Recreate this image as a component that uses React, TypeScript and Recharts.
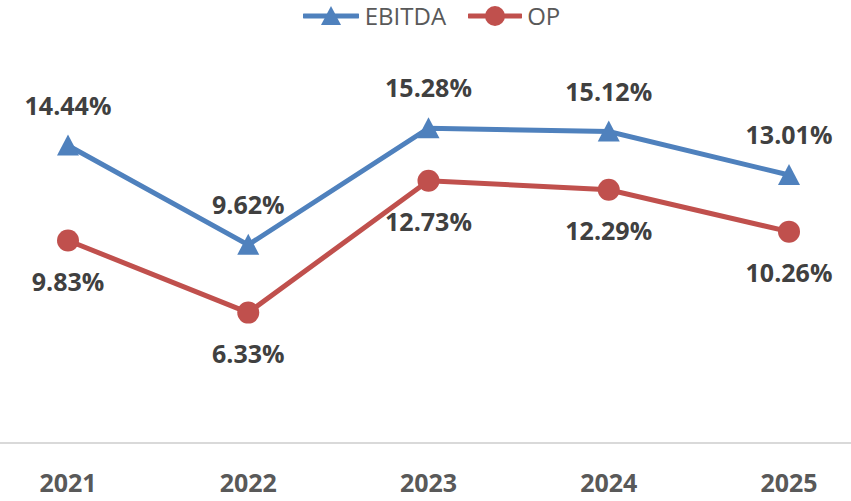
import React from "react";
import { CartesianGrid, Legend, LabelList, Line, LineChart, XAxis, YAxis } from "recharts";

const years = ["2021", "2022", "2023", "2024", "2025"];
const ebitda = [14.44, 9.62, 15.28, 15.12, 13.01];
const op = [9.83, 6.33, 12.73, 12.29, 10.26];

const data = years.map((year, i) => ({ year, ebitda: ebitda[i], op: op[i] }));

const BLUE = "#4f81bd";
const RED = "#c0504d";
const FONT = "'Open Sans', 'DejaVu Sans', sans-serif";

const TriangleDot = (props: any) => {
  const { cx, cy, index } = props;
  if (cx == null || cy == null) return null;
  return <path key={index} d={`M${cx},${cy - 11} L${cx + 11},${cy + 10} L${cx - 11},${cy + 10} Z`} fill={BLUE} />;
};

const CircleDot = (props: any) => {
  const { cx, cy, index } = props;
  if (cx == null || cy == null) return null;
  return <circle key={index} cx={cx} cy={cy} r={11} fill={RED} />;
};

const makeLabel = (dy: number) => (props: any) => {
  const { x, y, value, index } = props;
  return (
    <text
      key={index}
      x={x}
      y={y + dy}
      textAnchor="middle"
      fontFamily={FONT}
      fontWeight={700}
      fontSize={25}
      fill="#404040"
    >
      {`${Number(value).toFixed(2)}%`}
    </text>
  );
};

const YearTick = (props: any) => {
  const { x, y, payload } = props;
  return (
    <text x={x} y={y + 49} textAnchor="middle" fontFamily={FONT} fontWeight={700} fontSize={25} fill="#595959">
      {payload.value}
    </text>
  );
};

const LegendContent = () => (
  <div
    style={{
      height: 31,
      display: "flex",
      justifyContent: "center",
      alignItems: "center",
      fontFamily: FONT,
      fontSize: 24,
      color: "#595959",
      paddingLeft: 12,
    }}
  >
    <svg width={56} height={24} style={{ marginRight: 6 }}>
      <line x1={1} y1={12} x2={55} y2={12} stroke={BLUE} strokeWidth={5} strokeLinecap="round" />
      <path d="M28,2 L38,21 L18,21 Z" fill={BLUE} />
    </svg>
    <span style={{ marginRight: 22, lineHeight: "24px" }}>EBITDA</span>
    <svg width={54} height={24} style={{ marginRight: 5 }}>
      <line x1={1} y1={12} x2={53} y2={12} stroke={RED} strokeWidth={5} strokeLinecap="round" />
      <circle cx={27} cy={12} r={10} fill={RED} />
    </svg>
    <span style={{ lineHeight: "24px" }}>OP</span>
  </div>
);

export default function App() {
  return (
    <div style={{ position: "absolute", left: 0, top: 0, width: 851, height: 501, background: "#fff" }}>
      <LineChart width={851} height={501} data={data} margin={{ top: 0, right: 0, bottom: 0, left: 0 }}>
        <CartesianGrid horizontal={false} vertical={false} />
        <XAxis
          dataKey="year"
          height={58}
          padding={{ left: 68, right: 62 }}
          axisLine={{ stroke: "#d9d9d9", strokeWidth: 2 }}
          tickLine={false}
          tickSize={0}
          tickMargin={0}
          tick={<YearTick />}
        />
        <YAxis hide domain={[0, 20]} width={0} />
        <Legend verticalAlign="top" align="center" content={<LegendContent />} />
        <Line
          type="linear"
          dataKey="ebitda"
          name="EBITDA"
          stroke={BLUE}
          strokeWidth={5}
          dot={<TriangleDot />}
          activeDot={false}
          isAnimationActive={false}
        >
          <LabelList dataKey="ebitda" content={makeLabel(-31)} />
        </Line>
        <Line
          type="linear"
          dataKey="op"
          name="OP"
          stroke={RED}
          strokeWidth={5}
          dot={<CircleDot />}
          activeDot={false}
          isAnimationActive={false}
        >
          <LabelList dataKey="op" content={makeLabel(50)} />
        </Line>
      </LineChart>
    </div>
  );
}
